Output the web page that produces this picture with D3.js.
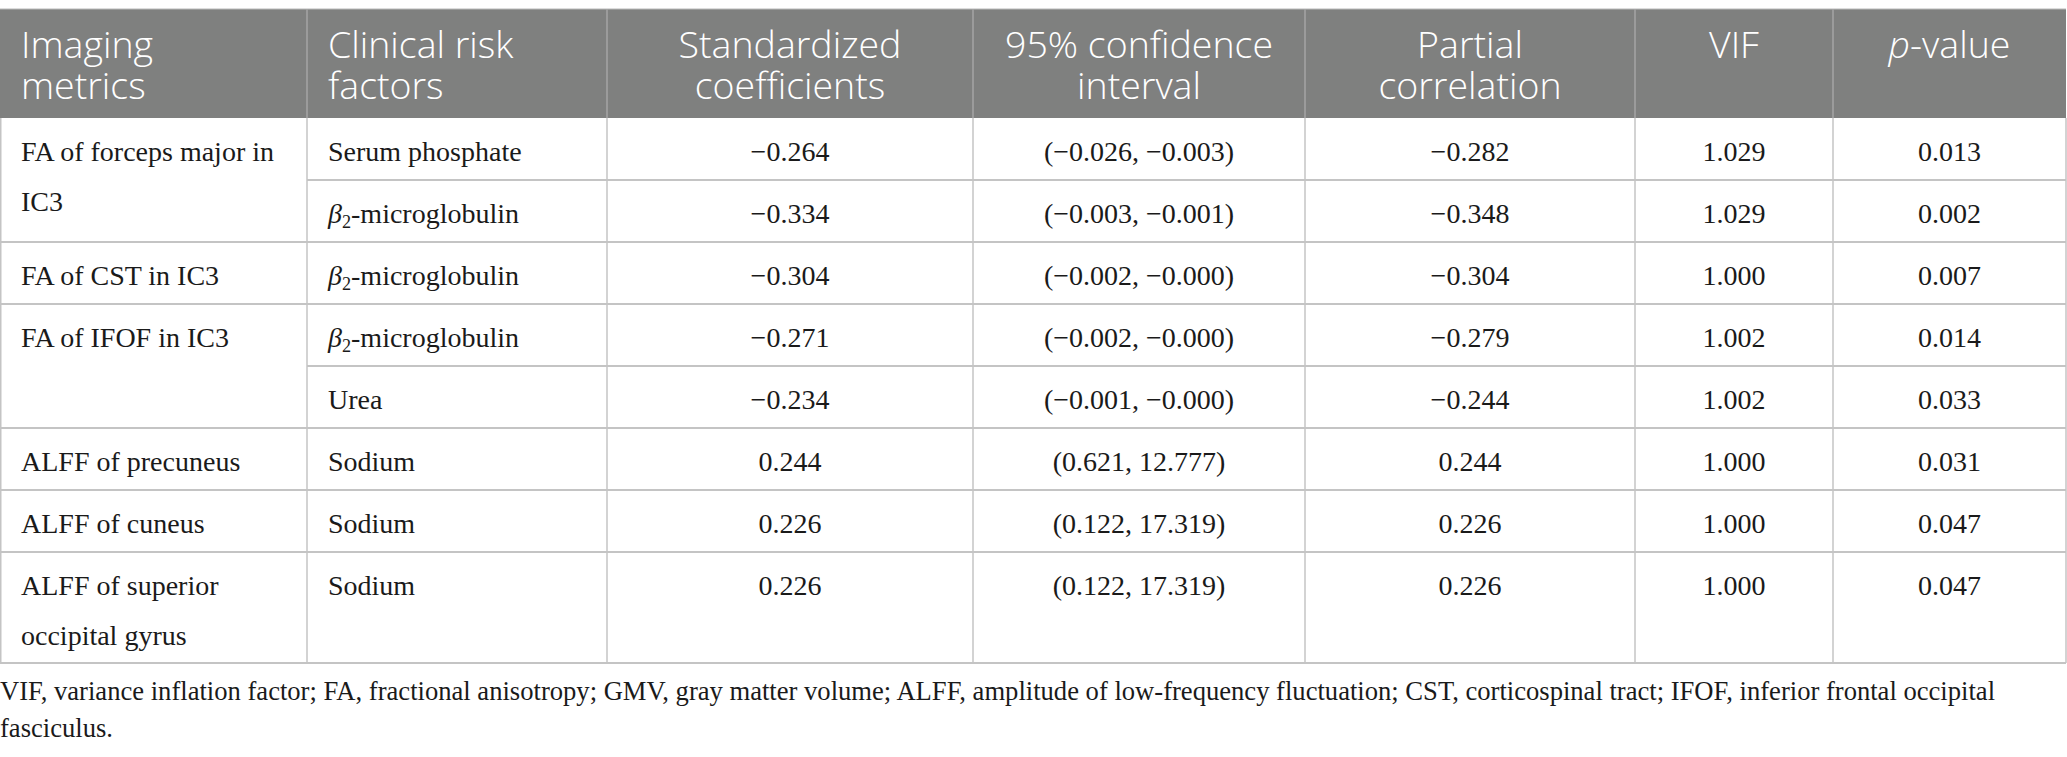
<!DOCTYPE html>
<html>
<head>
<meta charset="utf-8">
<script src="https://cdn.jsdelivr.net/npm/d3@7/dist/d3.min.js"></script>
<style>
  html, body { margin: 0; padding: 0; background: #ffffff; }
  svg { display: block; }
</style>
</head>
<body>
<svg id="chart" width="2067" height="757"></svg>
<script>
// ---------------- DATA ----------------
const headerLines = [
  ["Imaging", "metrics"],
  ["Clinical risk", "factors"],
  ["Standardized", "coefficients"],
  ["95% confidence", "interval"],
  ["Partial", "correlation"],
  ["VIF"],
  ["<i>p</i>-value"]
];
const imagingMetrics = [
  "FA of forceps major in IC3",
  "FA of CST in IC3",
  "FA of IFOF in IC3",
  "ALFF of precuneus",
  "ALFF of cuneus",
  "ALFF of superior occipital gyrus"
];
const metricRowSpan = [2, 1, 2, 1, 1, 1];
const riskFactors = [
  "Serum phosphate",
  "<i>β</i><sub>2</sub>-microglobulin",
  "<i>β</i><sub>2</sub>-microglobulin",
  "<i>β</i><sub>2</sub>-microglobulin",
  "Urea",
  "Sodium",
  "Sodium",
  "Sodium"
];
const stdCoefficients = [-0.264, -0.334, -0.304, -0.271, -0.234, 0.244, 0.226, 0.226];
const ciLower = [-0.026, -0.003, -0.002, -0.002, -0.001, 0.621, 0.122, 0.122];
const ciUpper = [-0.003, -0.001, -0.000, -0.000, -0.000, 12.777, 17.319, 17.319];
const partialCorrelation = [-0.282, -0.348, -0.304, -0.279, -0.244, 0.244, 0.226, 0.226];
const vifValues = [1.029, 1.029, 1.000, 1.002, 1.002, 1.000, 1.000, 1.000];
const pValues = [0.013, 0.002, 0.007, 0.014, 0.033, 0.031, 0.047, 0.047];
const footnoteLines = [
  "VIF, variance inflation factor; FA, fractional anisotropy; GMV, gray matter volume; ALFF, amplitude of low-frequency fluctuation; CST, corticospinal tract; IFOF, inferior frontal occipital",
  "fasciculus."
];

// ---------------- LAYOUT ----------------
const colEdges = [0, 307, 607, 973, 1305, 1635, 1833, 2066];
const colAlign = ["start", "start", "middle", "middle", "middle", "middle", "middle"];
const headerTop = 9, headerBottom = 118;
const baseRowH = 62, extraLineH = 49, bodyLineH = 50, bodyFirstBase = 42.5;
const headFirstBase = 58, headLineH = 41;
const padX = 21;
const serif = "'Liberation Serif', 'Times New Roman', serif";
const sans = "'Open Sans', 'Noto Sans', sans-serif";
const bodySize = 28, headSize = 37.5, footSize = 26.6;

const svg = d3.select("#chart");

const fmt3 = v => ((v < 0 || Object.is(v, -0)) ? "\u2212" : "") + Math.abs(v).toFixed(3);

// rich text: supports <i>..</i> and <sub>..</sub>; appends into a text or tspan selection
function richText(sel, str, size) {
  const re = /<(i|sub)>(.*?)<\/\1>|([^<]+)/g;
  let m;
  let pendingUp = 0;
  while ((m = re.exec(str)) !== null) {
    const t = sel.append("tspan");
    if (pendingUp) { t.attr("dy", -pendingUp); pendingUp = 0; }
    if (m[1] === "i") {
      t.attr("font-style", "italic").text(m[2]);
    } else if (m[1] === "sub") {
      const d = size * 0.2;
      t.attr("font-size", size * 0.65).attr("dy", d).text(m[2]);
      pendingUp = d;
    } else {
      t.text(m[3]);
    }
  }
}

// multi-line text in ONE text element
function multiLine(parent, lines, x, y, lineH, anchor, family, size, fill, weight) {
  const t = parent.append("text")
    .attr("x", x).attr("y", y)
    .attr("text-anchor", anchor)
    .attr("font-family", family).attr("font-size", size).attr("fill", fill);
  if (weight) t.attr("font-weight", weight);
  lines.forEach((ln, i) => {
    const line = t.append("tspan").attr("x", x).attr("y", y + i * lineH);
    richText(line, ln, size);
  });
  return t;
}

// measure + wrap helper
const measurer = svg.append("text").attr("font-family", serif).attr("font-size", bodySize).attr("visibility", "hidden");
function textWidth(s) { measurer.text(s); return measurer.node().getComputedTextLength(); }
function wrap(s, maxW) {
  const words = s.split(" ");
  const lines = [];
  let cur = "";
  words.forEach(w => {
    const test = cur ? cur + " " + w : w;
    if (cur && textWidth(test) > maxW) { lines.push(cur); cur = w; }
    else cur = test;
  });
  if (cur) lines.push(cur);
  return lines;
}

// column x helpers via ordinal scales
const colIdx = d3.range(colEdges.length - 1);
const xLeft = d3.scaleOrdinal().domain(colIdx).range(colEdges.slice(0, -1));
const xRight = d3.scaleOrdinal().domain(colIdx).range(colEdges.slice(1));
const textX = c => colAlign[c] === "start" ? xLeft(c) + padX : (xLeft(c) + xRight(c)) / 2;

// expand metric cells to rows
const metricCells = [];
let rIdx = 0;
imagingMetrics.forEach((m, i) => {
  const lines = wrap(m, colEdges[1] - colEdges[0] - padX - 12);
  metricCells.push({ text: m, lines, row: rIdx, span: metricRowSpan[i] });
  rIdx += metricRowSpan[i];
});
const nRows = riskFactors.length;
const rowLines = d3.range(nRows).map(r => {
  const cell = metricCells.find(c => c.row === r && c.span === 1);
  return cell ? cell.lines.length : 1;
});
const rowH = rowLines.map(n => baseRowH + (n - 1) * extraLineH);
const rowTop = [];
let acc = headerBottom;
rowH.forEach((h) => { rowTop.push(acc); acc += h; });
const tableBottom = acc;
const yRow = d3.scaleOrdinal().domain(d3.range(nRows)).range(rowTop);

// ---------------- HEADER ----------------
svg.append("rect")
  .attr("x", 0).attr("y", headerTop).attr("width", colEdges[colEdges.length - 1]).attr("height", headerBottom - headerTop)
  .attr("fill", "#7f807f");
svg.append("line").attr("x1", 0).attr("x2", colEdges[colEdges.length - 1])
  .attr("y1", headerTop).attr("y2", headerTop).attr("stroke", "#b9b9b9").attr("stroke-width", 1);

svg.append("g").selectAll("line").data(colEdges.slice(1, -1)).join("line")
  .attr("x1", d => d).attr("x2", d => d).attr("y1", headerTop).attr("y2", headerBottom)
  .attr("stroke", "#a4a5a4").attr("stroke-width", 1.5);

const headG = svg.append("g");
headerLines.forEach((lines, c) => {
  multiLine(headG, lines, textX(c), headFirstBase, headLineH, colAlign[c], sans, headSize, "#ffffff", 300);
});

// ---------------- BODY ----------------
const gridColor = "#c4c4c4";
const bodyG = svg.append("g");

d3.range(1, nRows).forEach(r => {
  const startsMetric = metricCells.some(c => c.row === r);
  bodyG.append("line")
    .attr("x1", startsMetric ? 0 : colEdges[1]).attr("x2", colEdges[colEdges.length - 1])
    .attr("y1", yRow(r)).attr("y2", yRow(r))
    .attr("stroke", gridColor).attr("stroke-width", 2);
});
bodyG.append("line").attr("x1", 0).attr("x2", colEdges[colEdges.length - 1])
  .attr("y1", tableBottom).attr("y2", tableBottom).attr("stroke", gridColor).attr("stroke-width", 2);
bodyG.selectAll("line.v").data(colEdges).join("line").attr("class", "v")
  .attr("x1", d => Math.max(d, 0.75)).attr("x2", d => Math.max(d, 0.75))
  .attr("y1", headerBottom).attr("y2", tableBottom)
  .attr("stroke", gridColor).attr("stroke-width", 1.5);

metricCells.forEach(cell => {
  multiLine(bodyG, cell.lines, textX(0), yRow(cell.row) + bodyFirstBase, bodyLineH, "start", serif, bodySize, "#1a1a1a");
});

const colValues = [
  riskFactors,
  stdCoefficients.map(fmt3),
  ciLower.map((lo, i) => "(" + fmt3(lo) + ", " + fmt3(ciUpper[i]) + ")"),
  partialCorrelation.map(fmt3),
  vifValues.map(fmt3),
  pValues.map(fmt3)
];
colValues.forEach((vals, k) => {
  const c = k + 1;
  vals.forEach((v, r) => {
    const t = bodyG.append("text")
      .attr("x", textX(c)).attr("y", yRow(r) + bodyFirstBase)
      .attr("text-anchor", colAlign[c])
      .attr("font-family", serif).attr("font-size", bodySize).attr("fill", "#1a1a1a");
    richText(t, v, bodySize);
  });
});

// ---------------- FOOTNOTE ----------------
multiLine(svg, footnoteLines, 0, tableBottom + 37, 37, "start", serif, footSize, "#1a1a1a");
measurer.remove();
</script>
</body>
</html>
